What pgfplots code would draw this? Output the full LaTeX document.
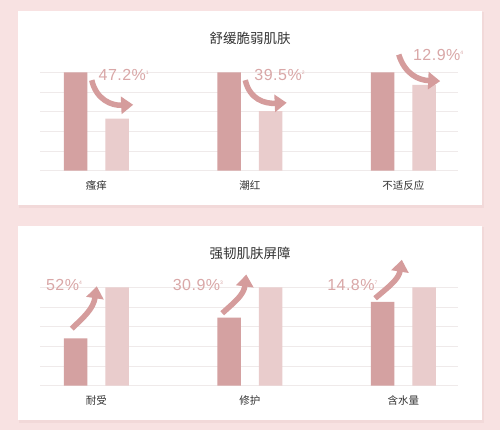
\documentclass[border=0pt]{standalone}
\usepackage{pgfplots}
\pgfplotsset{compat=1.18}
\usepackage{fontspec}
\setmainfont{Liberation Sans}
\newfontfamily\cjk{Noto Sans CJK SC}
\newfontfamily\numfont[LetterSpace=3]{Liberation Sans}
\usetikzlibrary{arrows.meta}

\definecolor{bgpink}{HTML}{F8E2E2}
\definecolor{shadow}{HTML}{F2D9D9}
\definecolor{darkbar}{HTML}{D4A1A1}
\definecolor{lightbar}{HTML}{E9CCCC}
\definecolor{arrowc}{HTML}{D59C9C}
\definecolor{pct}{HTML}{D9A7A7}
\definecolor{gridc}{HTML}{EFEAEA}
\definecolor{txt}{HTML}{333333}

% shared look of both panels
\pgfplotsset{
  panel/.style={
    scale only axis, width=418pt, height=98.4pt,
    anchor=south west,
    ybar, bar width=23.5pt,
    xmin=-0.367, xmax=2.356, ymin=0, ymax=100,
    ytick={0,20,...,100}, yticklabels={},
    ymajorgrids, grid style={gridc, line width=0.6pt},
    axis line style={draw=none},
    major tick length=0pt,
    xtick={0,1,2},
    xticklabel style={font=\cjk\fontsize{10.5}{12}\selectfont, text=txt, yshift=-6pt},
    clip=false,
  },
}
\tikzset{
  pctlabel/.style={font=\numfont\fontsize{16}{17}\selectfont, text=pct},
  arr/.style={arrowc, line width=5.5pt, -{Triangle[length=12pt, width=17pt]}},
}
\newcommand{\fnsup}[1]{\textsuperscript{\fontsize{5}{6}\selectfont #1}}

\begin{document}
\begin{tikzpicture}[x=1pt, y=1pt]
\useasboundingbox (0,0) rectangle (500,430);
\fill[bgpink] (0,0) rectangle (500,430);
% cards
\fill[shadow] (19,222) rectangle (484,418);
\fill[white] (18,225) rectangle (482,419);
\fill[shadow] (19,7) rectangle (484,203);
\fill[white] (18,10) rectangle (482,204);

\node[font=\cjk\fontsize{13.5}{15}\selectfont, text=txt] at (250,392) {舒缓脆弱肌肤};
\node[font=\cjk\fontsize{13.5}{15}\selectfont, text=txt] at (250,176.7) {强韧肌肤屏障};

% top panel: before = 100, after = 100 - reduction
\begin{axis}[panel, at={(40pt,259.3pt)}, xticklabels={瘙痒,潮红,不适反应}]
\addplot[fill=darkbar, draw=none, bar shift=-20.7pt] coordinates {(0,100) (1,100) (2,100)};
\addplot[fill=lightbar, draw=none, bar shift=20.7pt] coordinates {(0,52.8) (1,60.5) (2,87.1)};
\draw[arr] (axis cs:-0.03,92) .. controls (axis cs:0.0,72) and (axis cs:0.1,66) .. (axis cs:0.24,67);
\draw[arr] (axis cs:0.97,92) .. controls (axis cs:1.0,72) and (axis cs:1.1,68) .. (axis cs:1.24,69);
\draw[arr] (axis cs:1.97,118) .. controls (axis cs:2.01,98) and (axis cs:2.1,92) .. (axis cs:2.24,91);
\node[pctlabel] at (axis cs:0.18,97.3) {47.2\%\fnsup{1}};
\node[pctlabel] at (axis cs:1.195,97.3) {39.5\%\fnsup{2}};
\node[pctlabel] at (axis cs:2.228,117.6) {12.9\%\fnsup{4}};
\end{axis}

% bottom panel: before = 100 - increase, after = 100
\begin{axis}[panel, at={(40pt,44.3pt)}, xticklabels={耐受,修护,含水量}]
\addplot[fill=darkbar, draw=none, bar shift=-20.7pt] coordinates {(0,48) (1,69.1) (2,85.2)};
\addplot[fill=lightbar, draw=none, bar shift=20.7pt] coordinates {(0,100) (1,100) (2,100)};
\draw[arr] (axis cs:-0.16,58) .. controls (axis cs:-0.08,70) and (axis cs:-0.02,78) .. (axis cs:0.003,101);
\draw[arr] (axis cs:0.82,73.6) .. controls (axis cs:0.9,85) and (axis cs:0.96,92) .. (axis cs:0.977,113);
\draw[arr] (axis cs:1.816,88.8) .. controls (axis cs:1.9,100) and (axis cs:1.97,108) .. (axis cs:1.99,128);
\node[pctlabel] at (axis cs:-0.209,102.3) {52\%\fnsup{4}};
\node[pctlabel] at (axis cs:0.663,102.3) {30.9\%\fnsup{3}};
\node[pctlabel] at (axis cs:1.669,102.3) {14.8\%\fnsup{7}};
\end{axis}
\end{tikzpicture}
\end{document}
